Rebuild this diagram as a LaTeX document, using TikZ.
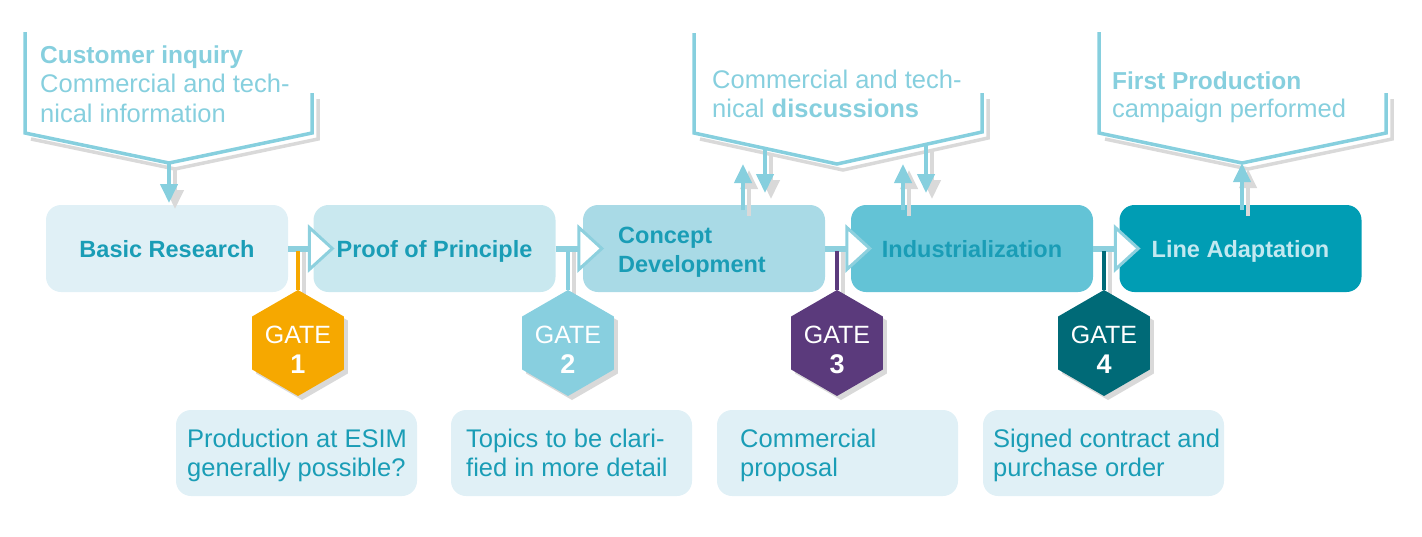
\documentclass[tikz,border=0pt]{standalone}
\usepackage{fontspec}
\setmainfont{Liberation Sans}
\usetikzlibrary{arrows.meta,shapes.geometric}
\definecolor{calblue}{HTML}{86CFDE}
\definecolor{bartone}{HTML}{8DD0DE}
\definecolor{sboxA}{HTML}{E0F0F6}
\definecolor{sboxB}{HTML}{C9E8EF}
\definecolor{sboxC}{HTML}{A9DAE6}
\definecolor{sboxD}{HTML}{63C3D6}
\definecolor{sboxE}{HTML}{009DB4}
\definecolor{txtblue}{HTML}{1A9DB6}
\definecolor{txtlight}{HTML}{C2E8F0}
\definecolor{gateA}{HTML}{F6A800}
\definecolor{gateB}{HTML}{88CFDF}
\definecolor{gateC}{HTML}{5B3A7C}
\definecolor{gateD}{HTML}{006A77}
\definecolor{greyshadow}{HTML}{D9D9D9}
\begin{document}
\begin{tikzpicture}[x=1pt,y=-1pt,
 stage/.style={rounded corners=15pt, inner sep=0pt, minimum width=242pt, minimum height=87pt,
   text height=17pt, text depth=0pt, font=\fontsize{23.5}{29}\selectfont\bfseries, text=txtblue},
 stagetext/.style={anchor=base west, inner sep=0pt, text=txtblue, font=\fontsize{23.5}{29}\selectfont\bfseries},
 note/.style={rounded corners=15pt, fill=sboxA, minimum width=241pt, minimum height=86pt, inner sep=0pt},
 notetext/.style={anchor=base west, inner sep=0pt, text=txtblue, font=\fontsize{25.5}{29}\selectfont},
 caltext/.style={anchor=base west, inner sep=0pt, text=calblue, font=\fontsize{25.5}{29}\selectfont},
 calbold/.style={caltext, font=\fontsize{24.5}{29}\selectfont\bfseries},
 calline/.style={draw=calblue, line width=3.5pt, line join=miter},
 shadowline/.style={draw=greyshadow, line width=3.5pt, line join=miter},
 calarrow/.style={draw=calblue, fill=calblue, line width=4pt, -{Triangle[width=17pt,length=19pt]}},
 shadowarrow/.style={draw=greyshadow, fill=greyshadow, line width=4pt, -{Triangle[width=17pt,length=19pt]}},
 hexa/.style={regular polygon, regular polygon sides=6, shape border rotate=30, minimum size=106pt, inner sep=0pt},
 gatetext/.style={anchor=base, inner sep=0pt, text=white, font=\fontsize{25}{29}\selectfont},
 gatenum/.style={gatetext, font=\fontsize{27}{29}\selectfont\bfseries},
 bar/.style={draw=bartone, line width=6pt},
 flowtip/.style={draw=bartone, fill=white, line width=3pt, line join=miter},
 gateline/.style={line width=4.5pt},
]
\useasboundingbox (0,0) rectangle (1422,536);

% ---------- gate shadows ----------
\foreach \x/\n in {298/1,568/2,837/3,1104/4}{
  \node[hexa, fill=greyshadow] (gs\n) at (\x+4,347) {};
  \draw[draw=greyshadow, line width=4pt] (\x+6,252) -- (\x+6,300);
}

% ---------- stages ----------
\node[stage, fill=sboxA] (s1) at (167,248.5) {Basic Research};
\node[stage, fill=sboxB] (s2) at (434.5,248.5) {Proof of Principle};
\node[stage, fill=sboxC] (s3) at (704,248.5) {};
\node[stage, fill=sboxD] (s4) at (972,248.5) {Industrialization};
\node[stage, fill=sboxE, text=txtlight] (s5) at (1240.5,248.5) {Line Adaptation};
\node[stagetext] (s3a) at (618,243.5) {Concept};
\node[stagetext] (s3b) at (618,272.5) {Development};

\draw[bar] (s1.east) -- (s2.west);
\draw[bar] (s2.east) -- (s3.west);
\draw[bar] (s3.east) -- (s4.west);
\draw[bar] (s4.east) -- (s5.west);
\foreach \n in {2,3,4,5}{
  \draw[flowtip] ([xshift=-4pt]s\n.west) ++(0,-21) -- ++(23,21) -- ++(-23,21) -- cycle;
}

% ---------- gates ----------
\node[hexa, fill=gateA] (g1) at (298,343) {};
\node[hexa, fill=gateB] (g2) at (568,343) {};
\node[hexa, fill=gateC] (g3) at (837,343) {};
\node[hexa, fill=gateD] (g4) at (1104,343) {};
\coordinate (j1) at (298,251);
\coordinate (j2) at (568,251);
\coordinate (j3) at (837,251);
\coordinate (j4) at (1104,251);
\draw[gateline, draw=gateA] (j1) -- (g1.north);
\draw[gateline, draw=gateB] (j2) -- (g2.north);
\draw[gateline, draw=gateC] (j3) -- (g3.north);
\draw[gateline, draw=gateD] (j4) -- (g4.north);
\node[gatetext] (g1a) at (298,343) {GATE};
\node[gatenum]  (g1b) at (298,373) {1};
\node[gatetext] (g2a) at (568,343) {GATE};
\node[gatenum]  (g2b) at (568,373) {2};
\node[gatetext] (g3a) at (837,343) {GATE};
\node[gatenum]  (g3b) at (837,373) {3};
\node[gatetext] (g4a) at (1104,343) {GATE};
\node[gatenum]  (g4b) at (1104,373) {4};

% ---------- notes ----------
\node[note] (n1) at (296.5,453) {};
\node[note] (n2) at (571.5,453) {};
\node[note] (n3) at (837.5,453) {};
\node[note] (n4) at (1103.5,453) {};
\node[notetext] (n1a) at (187,447) {Production at ESIM};
\node[notetext] (n1b) at (187,476) {generally possible?};
\node[notetext] (n2a) at (466,447) {Topics to be clari-};
\node[notetext] (n2b) at (466,476) {fied in more detail};
\node[notetext] (n3a) at (740,447) {Commercial};
\node[notetext] (n3b) at (740,476) {proposal};
\node[notetext] (n4a) at (993,447) {Signed contract and};
\node[notetext] (n4b) at (993,476) {purchase order};

% ---------- callout 1 ----------
\coordinate (c1v) at (169,163);
\coordinate (c1e) at (169,203);
\draw[shadowline] (31,139) -- (175,169) -- (318,139) -- (318,99);
\draw[shadowarrow] (175,169) -- (175,209);
\draw[calline] (25,32) -- (25,133) -- (c1v) -- (312,133) -- (312,93);
\draw[calarrow] (c1v) -- (c1e);
\node[calbold] (c1a) at (40,63) {Customer inquiry};
\node[caltext] (c1b) at (40,92) {Commercial and tech-};
\node[caltext] (c1c) at (40,122) {nical information};

% ---------- callout 2 ----------
\coordinate (c2v) at (837,164);
\coordinate (u1s) at (743,210); \coordinate (u1e) at (743,164);
\coordinate (d1s) at (765,148.4); \coordinate (d1e) at (765,193);
\coordinate (u2s) at (903,210); \coordinate (u2e) at (903,164);
\coordinate (d2s) at (926,144.4); \coordinate (d2e) at (926,193);
\draw[shadowline] (700,139) -- (843,170) -- (988,138) -- (988,99);
\draw[shadowarrow] (749,216) -- (749,170);
\draw[shadowarrow] (771,154) -- (771,199);
\draw[shadowarrow] (909,216) -- (909,170);
\draw[shadowarrow] (932,150) -- (932,199);
\draw[calline] (694,33) -- (694,133) -- (c2v) -- (982,132) -- (982,93);
\draw[calarrow] (u1s) -- (u1e);
\draw[calarrow] (d1s) -- (d1e);
\draw[calarrow] (u2s) -- (u2e);
\draw[calarrow] (d2s) -- (d2e);
\node[caltext] (c2a) at (712,88) {Commercial and tech-};
\node[caltext] (c2b) at (712,117) {nical \textbf{discussions}};

% ---------- callout 3 ----------
\coordinate (c3v) at (1242,163);
\coordinate (c3s) at (1242,210);
\draw[shadowline] (1105,139) -- (1248,169) -- (1392,139) -- (1392,99);
\draw[shadowarrow] (1248,216) -- (1248,169);
\draw[calline] (1099,32) -- (1099,133) -- (c3v) -- (1386,133) -- (1386,93);
\draw[calarrow] (c3s) -- (c3v);
\node[calbold] (c3a) at (1112,89) {First Production};
\node[caltext] (c3b) at (1112,117) {campaign performed};
\end{tikzpicture}
\end{document}
